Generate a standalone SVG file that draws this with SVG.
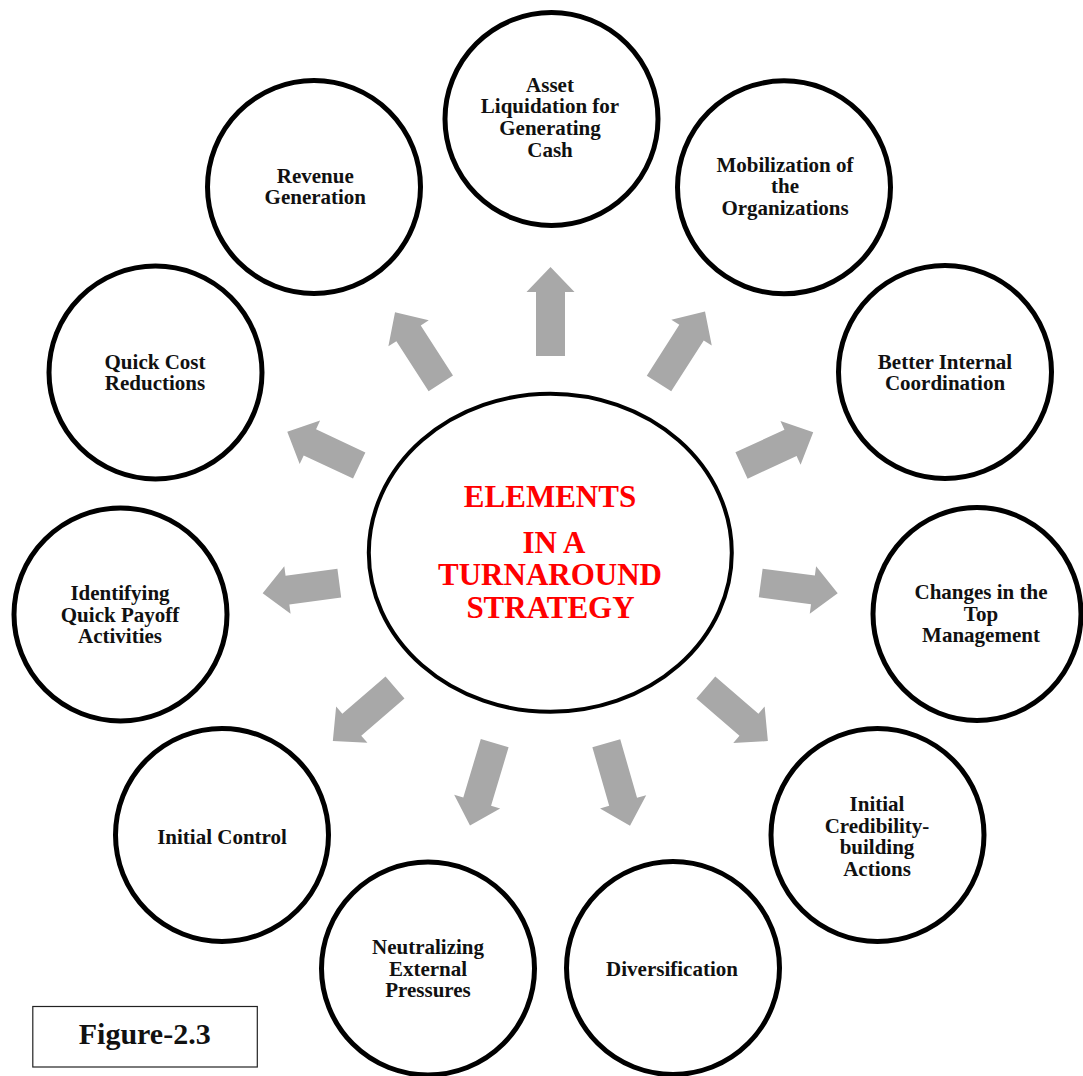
<svg xmlns="http://www.w3.org/2000/svg" width="1083" height="1076" viewBox="0 0 1083 1076">
<style>
.c{fill:#fff;stroke:#000;stroke-width:5}
.t{font-family:"Liberation Serif","Times New Roman",serif;font-weight:bold;font-size:21px;fill:#111;text-anchor:middle}
.h{font-family:"Liberation Serif","Times New Roman",serif;font-weight:bold;font-size:31px;fill:#ff0000;text-anchor:middle}
.a{fill:#a8a8a8}
</style>
<rect width="1083" height="1076" fill="#fff"/>
<g id="connectors">
<path class="a" transform="translate(550.5,356) rotate(-90)" d="M0,-14.5 H64 V-24 L89,0 L64,24 V14.5 H0 Z"/>
<path class="a" transform="translate(659,383.5) rotate(-57.4)" d="M0,-14.5 H60.4 V-24 L85.4,0 L60.4,24 V14.5 H0 Z"/>
<path class="a" transform="translate(440.8,383.3) rotate(-122.8)" d="M0,-14.5 H59.5 V-24 L84.5,0 L59.5,24 V14.5 H0 Z"/>
<path class="a" transform="translate(359.2,465.5) rotate(-154.8)" d="M0,-14.5 H54.5 V-24 L79.5,0 L54.5,24 V14.5 H0 Z"/>
<path class="a" transform="translate(741.5,465.5) rotate(-24.8)" d="M0,-14.5 H54 V-24 L79,0 L54,24 V14.5 H0 Z"/>
<path class="a" transform="translate(339.3,583.2) rotate(172.5)" d="M0,-14.5 H52.3 V-24 L77.3,0 L52.3,24 V14.5 H0 Z"/>
<path class="a" transform="translate(760.7,583) rotate(7.6)" d="M0,-14.5 H52.7 V-24 L77.7,0 L52.7,24 V14.5 H0 Z"/>
<path class="a" transform="translate(395,687.5) rotate(139.3)" d="M0,-14.5 H57 V-24 L82,0 L57,24 V14.5 H0 Z"/>
<path class="a" transform="translate(705.8,687.5) rotate(40.8)" d="M0,-14.5 H57 V-24 L82,0 L57,24 V14.5 H0 Z"/>
<path class="a" transform="translate(494.7,743.2) rotate(106.7)" d="M0,-14.5 H61 V-24 L86,0 L61,24 V14.5 H0 Z"/>
<path class="a" transform="translate(606.3,743.2) rotate(74)" d="M0,-14.5 H61 V-24 L86,0 L61,24 V14.5 H0 Z"/>
</g>
<g id="center">
<ellipse cx="550.3" cy="552.8" rx="181.5" ry="159" fill="#fff" stroke="#000" stroke-width="4"/>
<text class="h" x="550" y="506.7">ELEMENTS</text>
<text class="h" x="554" y="552.7">IN A</text>
<text class="h" x="550" y="585">TURNAROUND</text>
<text class="h" x="550.5" y="618.3">STRATEGY</text>
</g>
<g id="asset">
<circle class="c" cx="551.5" cy="119" r="106.5"/>
<text class="t" x="550" y="91.7">Asset</text>
<text class="t" x="550" y="113.4">Liquidation for</text>
<text class="t" x="550" y="135.1">Generating</text>
<text class="t" x="550" y="156.8">Cash</text>
</g>
<g id="revenue">
<circle class="c" cx="314" cy="187" r="106.5"/>
<text class="t" x="315.3" y="182.7">Revenue</text>
<text class="t" x="315.3" y="204.4">Generation</text>
</g>
<g id="mobilization">
<circle class="c" cx="784" cy="187.3" r="106.5"/>
<text class="t" x="785" y="171.7">Mobilization of</text>
<text class="t" x="785" y="193.4">the</text>
<text class="t" x="785" y="215.1">Organizations</text>
</g>
<g id="quickcost">
<circle class="c" cx="155.5" cy="372.5" r="106.5"/>
<text class="t" x="155" y="368.5">Quick Cost</text>
<text class="t" x="155" y="390.2">Reductions</text>
</g>
<g id="internal">
<circle class="c" cx="945" cy="372" r="106.5"/>
<text class="t" x="945" y="368.5">Better Internal</text>
<text class="t" x="945" y="390.2">Coordination</text>
</g>
<g id="identifying">
<circle class="c" cx="120.5" cy="614.5" r="106.5"/>
<text class="t" x="120" y="600">Identifying</text>
<text class="t" x="120" y="621.7">Quick Payoff</text>
<text class="t" x="120" y="643.4">Activities</text>
</g>
<g id="changes">
<ellipse class="c" cx="977" cy="614" rx="104" ry="106.5"/>
<text class="t" x="981" y="599">Changes in the</text>
<text class="t" x="981" y="620.7">Top</text>
<text class="t" x="981" y="642.4">Management</text>
</g>
<g id="control">
<circle class="c" cx="222" cy="835" r="106.5"/>
<text class="t" x="222" y="844">Initial Control</text>
</g>
<g id="credibility">
<circle class="c" cx="877.5" cy="835" r="106.5"/>
<text class="t" x="877" y="811">Initial</text>
<text class="t" x="877" y="832.7">Credibility-</text>
<text class="t" x="877" y="854.4">building</text>
<text class="t" x="877" y="876.1">Actions</text>
</g>
<g id="neutralizing">
<circle class="c" cx="428" cy="968.5" r="106.5"/>
<text class="t" x="428" y="954">Neutralizing</text>
<text class="t" x="428" y="975.7">External</text>
<text class="t" x="428" y="997.4">Pressures</text>
</g>
<g id="diversification">
<circle class="c" cx="673" cy="968" r="106.5"/>
<text class="t" x="672" y="976">Diversification</text>
</g>
<g id="figure">
<rect x="32.8" y="1006.5" width="224.5" height="60.5" fill="#fff" stroke="#222" stroke-width="1.2"/>
<text x="144.7" y="1044" font-family="Liberation Serif, Times New Roman, serif" font-weight="bold" font-size="30" text-anchor="middle" fill="#111">Figure-2.3</text>
</g>
</svg>
